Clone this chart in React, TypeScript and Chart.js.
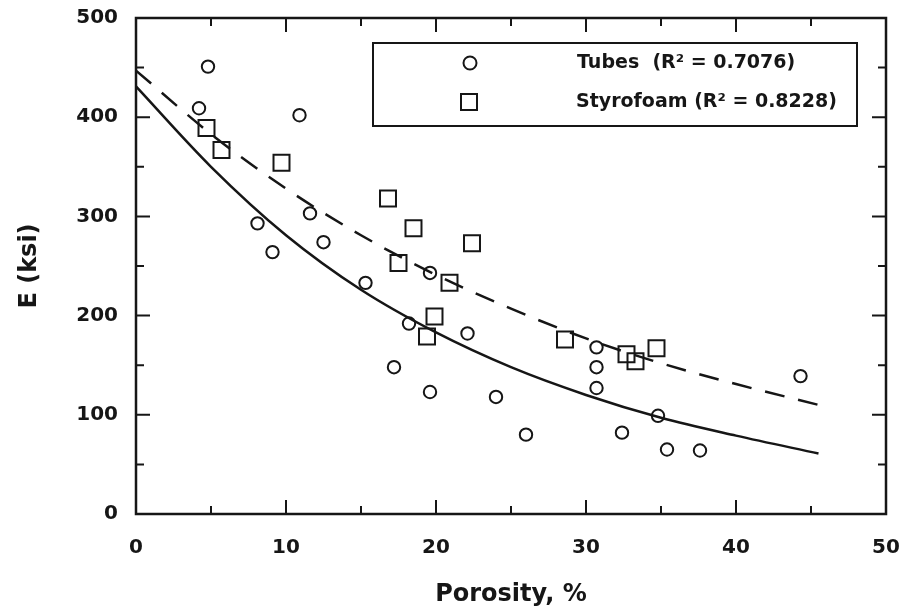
import React, { useEffect, useRef } from "react";
import { Chart, registerables } from "chart.js";

Chart.register(...registerables);

// ---- data ----
const tubesX = [4.8, 4.2, 10.9, 8.1, 9.1, 11.6, 12.5, 15.3, 17.2, 18.2, 19.6, 19.6, 22.1, 24.0, 26.0, 30.7, 30.7, 30.7, 32.4, 34.8, 35.4, 37.6, 44.3];
const tubesY = [451, 409, 402, 293, 264, 303, 274, 233, 148, 192, 243, 123, 182, 118, 80, 168, 148, 127, 82, 99, 65, 64, 139];

const foamX = [4.7, 5.7, 9.7, 16.8, 18.5, 22.4, 17.5, 20.9, 19.9, 19.4, 28.6, 32.7, 33.3, 34.7];
const foamY = [389, 367, 354, 318, 288, 273, 253, 233, 199, 179, 176, 161, 154, 167];

const fitX = [0, 5, 10, 15, 20, 25, 30, 35, 40, 45.5];
const tubesFitY = [431, 350, 281, 226, 183, 148, 120, 97, 79, 61];
const foamFitY = [447, 383, 328, 281, 241, 207, 177, 152, 131, 110];

const xTicks = [0, 10, 20, 30, 40, 50];
const yTicks = [0, 100, 200, 300, 400, 500];

const legendLabels = ["Tubes  (R\u00B2 = 0.7076)", "Styrofoam (R\u00B2 = 0.8228)"];
const xTitle = "Porosity, %";
const yTitle = "E (ksi)";

const INK = "#161616";
const FONT = "'DejaVu Sans', 'Liberation Sans', sans-serif";

const toPts = (xs: number[], ys: number[]) => xs.map((x, i) => ({ x, y: ys[i] }));

const framePlugin = {
  id: "frameTicks",
  afterDatasetsDraw(chart: any) {
    const { ctx, chartArea: a, scales } = chart;
    const xs = scales.x;
    const ys = scales.y;
    ctx.save();
    ctx.strokeStyle = INK;
    ctx.lineWidth = 2.5;
    ctx.strokeRect(a.left, a.top, a.right - a.left, a.bottom - a.top);
    ctx.lineWidth = 2;
    ctx.beginPath();
    for (let v = 0; v <= 50; v += 5) {
      const px = xs.getPixelForValue(v);
      const len = v % 10 === 0 ? 14 : 8;
      ctx.moveTo(px, a.bottom);
      ctx.lineTo(px, a.bottom - len);
      ctx.moveTo(px, a.top);
      ctx.lineTo(px, a.top + len);
    }
    for (let v = 0; v <= 500; v += 50) {
      const py = ys.getPixelForValue(v);
      const len = v % 100 === 0 ? 14 : 8;
      ctx.moveTo(a.left, py);
      ctx.lineTo(a.left + len, py);
      ctx.moveTo(a.right, py);
      ctx.lineTo(a.right - len, py);
    }
    ctx.stroke();

    // legend box
    const bx = a.left + 237, by = a.top + 25, bw = 484, bh = 83;
    ctx.lineWidth = 2;
    ctx.strokeRect(bx, by, bw, bh);
    const rows = [by + 20, by + 59];
    ctx.beginPath();
    ctx.arc(bx + 97, rows[0], 6.5, 0, Math.PI * 2);
    ctx.stroke();
    ctx.strokeRect(bx + 96 - 8, rows[1] - 8, 16, 16);
    ctx.fillStyle = INK;
    ctx.font = `bold 19px ${FONT}`;
    ctx.textBaseline = "middle";
    ctx.textAlign = "left";
    ctx.fillText(legendLabels[0], bx + 204, rows[0]);
    ctx.fillText(legendLabels[1], bx + 203, rows[1]);
    ctx.restore();
  },
};

export default function App() {
  const ref = useRef<HTMLCanvasElement | null>(null);
  useEffect(() => {
    if (!ref.current) return;
    Chart.defaults.font.family = FONT;
    const chart = new Chart(ref.current, {
      type: "scatter",
      data: {
        datasets: [
          {
            type: "line",
            data: toPts(fitX, tubesFitY),
            borderColor: INK,
            borderWidth: 2.5,
            pointRadius: 0,
            cubicInterpolationMode: "monotone",
            fill: false,
          } as any,
          {
            type: "line",
            data: toPts(fitX, foamFitY),
            borderColor: INK,
            borderWidth: 2.5,
            borderDash: [20, 14],
            pointRadius: 0,
            cubicInterpolationMode: "monotone",
            fill: false,
          } as any,
          {
            data: toPts(tubesX, tubesY),
            pointStyle: "circle",
            pointRadius: 6.2,
            borderColor: INK,
            backgroundColor: "rgba(0,0,0,0)",
            pointBorderWidth: 2,
            showLine: false,
          } as any,
          {
            data: toPts(foamX, foamY),
            pointStyle: "rect",
            pointRadius: 11.3,
            borderColor: INK,
            backgroundColor: "rgba(0,0,0,0)",
            pointBorderWidth: 2,
            showLine: false,
          } as any,
        ],
      },
      options: {
        responsive: false,
        animation: false,
        layout: { padding: { top: 18, right: 18, left: 0, bottom: 0 } },
        plugins: { legend: { display: false }, tooltip: { enabled: false } },
        scales: {
          x: {
            type: "linear",
            min: 0,
            max: 50,
            afterFit: (s: any) => { s.height = 101; s.paddingLeft = 0; s.paddingRight = 0; },
            afterBuildTicks: (s: any) => { s.ticks = xTicks.map((v) => ({ value: v })); },
            grid: { display: false, drawTicks: false },
            border: { display: false },
            ticks: { color: INK, font: { size: 20, family: FONT, weight: "bold" }, padding: 22 },
            title: { display: true, text: xTitle, color: INK, font: { size: 24, family: FONT, weight: "bold" }, padding: { top: 0, bottom: 6 } },
          },
          y: {
            type: "linear",
            min: 0,
            max: 500,
            afterFit: (s: any) => { s.width = 136; s.paddingTop = 0; s.paddingBottom = 0; },
            afterBuildTicks: (s: any) => { s.ticks = yTicks.map((v) => ({ value: v })); },
            grid: { display: false, drawTicks: false },
            border: { display: false },
            ticks: { color: INK, font: { size: 20, family: FONT, weight: "bold" }, padding: 18 },
            title: { display: true, text: yTitle, color: INK, font: { size: 24, family: FONT, weight: "bold" }, padding: { top: 15, bottom: 0 } },
          },
        },
      },
      plugins: [framePlugin],
    } as any);
    return () => chart.destroy();
  }, []);
  return (
    <div style={{ position: "absolute", left: 0, top: 0, width: 904, height: 615, background: "#fff" }}>
      <canvas ref={ref} width={904} height={615} style={{ display: "block" }} />
    </div>
  );
}
